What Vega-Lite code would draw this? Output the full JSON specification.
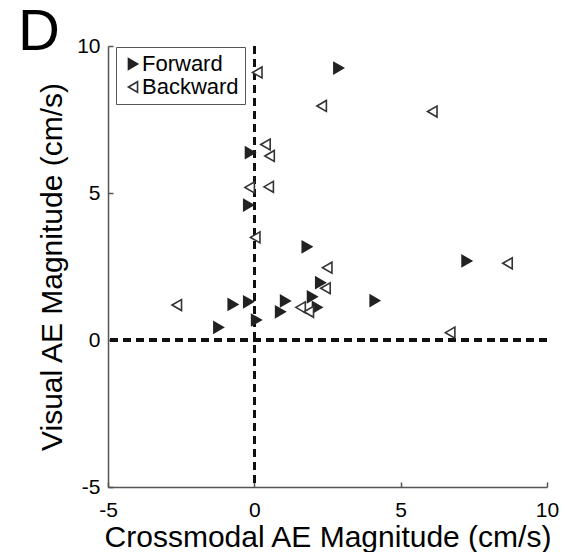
{
  "$schema": "https://vega.github.io/schema/vega-lite/v6.json",
  "width": 439,
  "height": 441,
  "autosize": {"type": "none"},
  "padding": {"left": 108, "top": 46, "right": 18, "bottom": 65},
  "background": "white",
  "title": {"text": "D", "anchor": "start", "frame": "group", "fontSize": 58, "font": "Liberation Sans", "fontWeight": "normal", "color": "#000", "baseline": "alphabetic", "offset": 0, "dx": -90, "dy": 73},
  "config": {
    "view": {"stroke": null},
    "font": "Liberation Sans",
    "axis": {"grid": false, "domainColor": "#555", "domainWidth": 1.5, "tickColor": "#555", "tickWidth": 1.5, "tickSize": -5, "labelFontSize": 21, "labelColor": "#000", "titleFontSize": 30, "titleFontWeight": "normal", "titleColor": "#000", "labelFont": "Liberation Sans", "titleFont": "Liberation Sans", "labelExpr": "datum.value + ''", "labelFlush": false}
  },
  "data": {"values": [
    {"cross": 2.88, "visual": 9.25, "dir": "Forward"},
    {"cross": 0.1, "visual": 9.1, "dir": "Backward"},
    {"cross": 2.3, "visual": 7.96, "dir": "Backward"},
    {"cross": 6.08, "visual": 7.77, "dir": "Backward"},
    {"cross": 0.38, "visual": 6.65, "dir": "Backward"},
    {"cross": 0.52, "visual": 6.26, "dir": "Backward"},
    {"cross": -0.14, "visual": 6.37, "dir": "Forward"},
    {"cross": -0.16, "visual": 5.19, "dir": "Backward"},
    {"cross": 0.49, "visual": 5.21, "dir": "Backward"},
    {"cross": -0.2, "visual": 4.59, "dir": "Forward"},
    {"cross": 0.03, "visual": 3.49, "dir": "Backward"},
    {"cross": 1.8, "visual": 3.17, "dir": "Forward"},
    {"cross": 2.49, "visual": 2.46, "dir": "Backward"},
    {"cross": 7.26, "visual": 2.69, "dir": "Forward"},
    {"cross": 8.65, "visual": 2.61, "dir": "Backward"},
    {"cross": 2.26, "visual": 1.95, "dir": "Forward"},
    {"cross": 2.43, "visual": 1.76, "dir": "Backward"},
    {"cross": 1.98, "visual": 1.47, "dir": "Forward"},
    {"cross": 1.06, "visual": 1.33, "dir": "Forward"},
    {"cross": -2.65, "visual": 1.19, "dir": "Backward"},
    {"cross": -0.73, "visual": 1.21, "dir": "Forward"},
    {"cross": -0.2, "visual": 1.3, "dir": "Forward"},
    {"cross": 4.12, "visual": 1.34, "dir": "Forward"},
    {"cross": 1.58, "visual": 1.11, "dir": "Backward"},
    {"cross": 2.15, "visual": 1.11, "dir": "Forward"},
    {"cross": 1.86, "visual": 0.96, "dir": "Backward"},
    {"cross": 0.89, "visual": 0.96, "dir": "Forward"},
    {"cross": 0.07, "visual": 0.68, "dir": "Forward"},
    {"cross": -1.22, "visual": 0.43, "dir": "Forward"},
    {"cross": 6.69, "visual": 0.25, "dir": "Backward"}
  ]},
  "layer": [
    {
      "mark": {"type": "rule", "strokeDash": [8, 5], "strokeWidth": 2.5, "color": "#111"},
      "encoding": {"x": {"datum": 0, "type": "quantitative"}}
    },
    {
      "mark": {"type": "rule", "strokeDash": [8, 5], "strokeWidth": 2.5, "color": "#111"},
      "encoding": {"y": {"datum": 0, "type": "quantitative"}}
    },
    {
      "mark": {"type": "point", "size": 120, "strokeWidth": 1.6, "opacity": 1},
      "encoding": {
        "x": {"field": "cross", "type": "quantitative", "scale": {"domain": [-5, 10], "nice": false, "zero": false}, "axis": {"values": [-5, 0, 5, 10], "title": "Crossmodal AE Magnitude (cm/s)", "labelPadding": 17, "titlePadding": 2}},
        "y": {"field": "visual", "type": "quantitative", "scale": {"domain": [-5, 10], "nice": false, "zero": false}, "axis": {"values": [-5, 0, 5, 10], "title": "Visual AE Magnitude (cm/s)", "labelPadding": 13, "titleX": -41}},
        "shape": {"field": "dir", "type": "nominal", "scale": {"domain": ["Forward", "Backward"], "range": ["triangle-right", "triangle-left"]}, "legend": {"title": null, "orient": "none", "legendX": 8, "legendY": 1, "strokeColor": "#555", "fillColor": "white", "padding": 6, "labelFontSize": 22, "labelColor": "#000", "labelOffset": -2, "rowPadding": 1, "symbolSize": 110, "symbolStrokeWidth": 1.6, "cornerRadius": 0}},
        "fill": {"field": "dir", "type": "nominal", "scale": {"domain": ["Forward", "Backward"], "range": ["#222222", "#ffffff"]}},
        "stroke": {"field": "dir", "type": "nominal", "scale": {"domain": ["Forward", "Backward"], "range": ["#222222", "#333333"]}}
      }
    }
  ]
}
